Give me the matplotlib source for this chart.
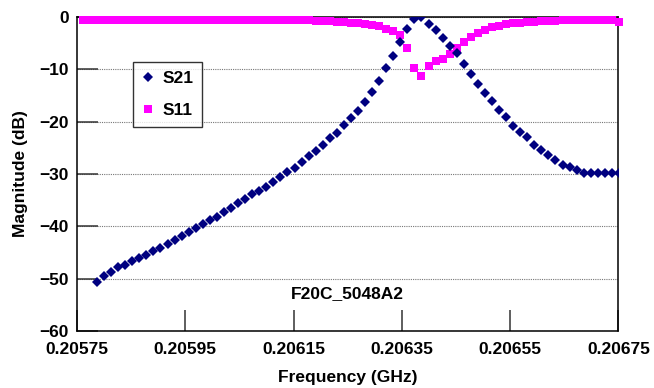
import matplotlib
matplotlib.use("Agg")
import matplotlib.pyplot as plt
import numpy as np

plt.rcParams["font.family"] = ["Liberation Sans", "DejaVu Sans"]
plt.rcParams["font.weight"] = "bold"
plt.rcParams["font.size"] = 12.5

# frequency sweeps (GHz); S11 trace starts two points earlier than S21
freq_s21 = np.linspace(0.205787, 0.206751, 75)
freq_s11 = np.linspace(0.205761, 0.206751, 77)

s21 = [
    -50.6, -49.5, -48.7, -47.8, -47.3, -46.7, -46.1, -45.5, -44.7, -44.1,
    -43.4, -42.7, -41.9, -41.0, -40.3, -39.6, -38.8, -38.2, -37.3, -36.5,
    -35.6, -34.7, -33.9, -33.2, -32.4, -31.5, -30.5, -29.7, -28.8, -27.8,
    -26.6, -25.6, -24.5, -23.2, -22.1, -20.7, -19.3, -17.9, -16.3, -14.3,
    -12.3, -9.8, -7.4, -4.8, -2.3, -0.4, 0.0, -1.3, -2.5, -4.0,
    -5.5, -6.9, -9.0, -10.8, -12.8, -14.6, -16.1, -17.7, -19.2, -20.8,
    -22.0, -23.0, -24.4, -25.4, -26.4, -27.4, -28.2, -28.7, -29.2, -29.8,
    -29.9, -29.9, -29.9, -29.9, -29.8,
]

s11 = [
    -0.5, -0.5,
    -0.5, -0.5, -0.5, -0.5, -0.5, -0.5, -0.5, -0.5, -0.5, -0.5,
    -0.5, -0.5, -0.5, -0.5, -0.5, -0.5, -0.5, -0.5, -0.5, -0.5,
    -0.5, -0.5, -0.5, -0.5, -0.5, -0.5, -0.5, -0.5, -0.5, -0.6,
    -0.6, -0.7, -0.7, -0.8, -0.9, -1.0, -1.1, -1.2, -1.4, -1.6,
    -1.8, -2.2, -2.7, -3.5, -6.0, -9.8, -11.3, -9.3, -8.5, -8.0,
    -7.0, -5.9, -4.8, -3.8, -3.0, -2.4, -2.0, -1.7, -1.4, -1.2,
    -1.1, -1.0, -0.9, -0.8, -0.7, -0.7, -0.6, -0.6, -0.6, -0.6,
    -0.5, -0.5, -0.5, -0.5, -1.0,
]

x_ticks = [0.20575, 0.20595, 0.20615, 0.20635, 0.20655, 0.20675]
y_ticks = [0, -10, -20, -30, -40, -50, -60]
note = "F20C_5048A2"

fig = plt.figure(figsize=(6.54, 3.88), dpi=100)
ax = fig.add_axes([0.1177, 0.1469, 0.8279, 0.8093])

h11, = ax.plot(freq_s11, s11, linestyle="none", marker="s", markersize=6.3,
               color="#ff00ff", markeredgewidth=0, zorder=3, clip_on=False)
h21, = ax.plot(freq_s21, s21, linestyle="none", marker="D", markersize=4.6,
               color="#000080", markeredgewidth=0, zorder=4)

ax.set_xlim(x_ticks[0], x_ticks[-1])
ax.set_ylim(-60, 0)
ax.set_xticks(x_ticks)
ax.set_xticklabels([f"{v:.5f}" for v in x_ticks])
ax.set_yticks(y_ticks)
ax.set_yticklabels([str(v).replace("-", "\u2212") for v in y_ticks])

ax.tick_params(axis="both", direction="in", length=15, width=1.1, color="#333333")
ax.tick_params(axis="y", pad=6)
ax.tick_params(axis="x", pad=8)
ax.grid(axis="y", linestyle=(0, (1, 1)), color="#777777", linewidth=0.8)

for sp in ax.spines.values():
    sp.set_linewidth(1.1)
    sp.set_color("black")

ax.set_xlabel("Frequency (GHz)", fontweight="bold", labelpad=9)
ax.set_ylabel("Magnitude (dB)", fontweight="bold", labelpad=8)

ax.text(0.206250, -52.8, note, ha="center", va="center", fontweight="bold")

leg = ax.legend([h21, h11], ["S21", "S11"], loc="upper left",
                bbox_to_anchor=(0.1034, 0.857), borderaxespad=0,
                frameon=True, fancybox=False, edgecolor="black",
                handlelength=0.7, handletextpad=0.5, labelspacing=1.0,
                borderpad=0.5, markerscale=1.0)
leg.get_frame().set_linewidth(1.0)

fig.savefig("out.png", dpi=100)
